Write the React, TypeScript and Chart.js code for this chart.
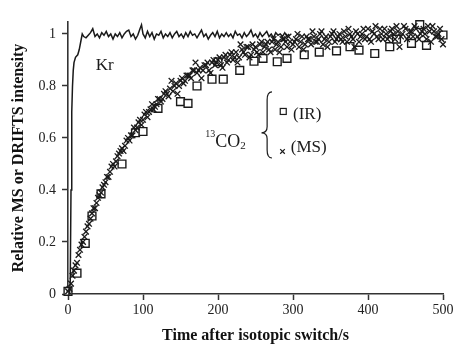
import React, { useEffect, useRef } from "react";
import { Chart, registerables } from "chart.js";

Chart.register(...registerables);

const FONT = "'Liberation Serif', 'DejaVu Serif', serif";

const xTickValues = [0, 100, 200, 300, 400, 500];
const yTickValues = [0, 0.2, 0.4, 0.6, 0.8, 1];

const krTime = [
  0, 2, 3, 4, 5, 6, 7, 8, 10, 13, 15, 17, 19, 21, 24, 27, 30, 33, 36, 39, 42, 45, 48, 51, 54, 57, 60,
  63, 66, 69, 72, 75, 78, 81, 84, 87, 90, 93, 96, 98, 100, 103, 106, 109, 112, 115, 118, 121, 124,
  127, 130, 133, 136, 139, 142, 145, 148, 151, 154, 157, 160, 163, 166, 169, 172, 175, 178, 181,
  184, 187, 190, 193, 196, 199, 202, 205, 208, 211, 214, 217, 220, 223, 226, 229, 232, 235, 238,
  241, 244, 247, 250, 253, 256, 259, 262, 265, 268, 271, 274, 277, 280, 283, 286, 289, 292, 295,
];
const krValue = [
  0, 0, 0.05, 0.4, 0.7, 0.8, 0.86, 0.89, 0.91, 0.92, 0.94, 0.97, 1.0, 0.99, 0.985, 0.995, 1.005,
  1.02, 0.99, 1.0, 0.985, 1.005, 0.995, 1.01, 0.99, 1.0, 0.98, 1.0, 0.99, 1.005, 0.985, 1.0, 1.01,
  1.015, 0.99, 1.0, 0.98, 0.995, 1.02, 1.035, 1.0, 0.985, 1.01, 0.99, 1.005, 0.98, 1.0, 0.995, 1.01,
  0.985, 1.0, 0.99, 1.005, 0.985, 1.0, 1.01, 0.99, 1.0, 0.985, 1.005, 0.99, 1.01, 0.995, 1.0, 0.985,
  1.0, 1.015, 0.99, 1.0, 0.98, 0.995, 1.005, 0.99, 1.01, 0.985, 1.0, 0.99, 1.005, 0.99, 1.0, 0.985,
  1.01, 0.995, 1.0, 0.985, 1.005, 0.99, 1.0, 1.015, 0.99, 1.0, 0.985, 1.005, 0.99, 1.0, 1.01, 0.99,
  1.0, 0.985, 1.005, 0.995, 1.0, 0.99, 1.005, 0.99, 1.0,
];

const irTime = [
  0, 12, 23, 32, 44, 72, 90, 100, 120, 150, 160, 172, 192, 200, 207, 229, 248, 260, 279, 292, 315,
  335, 358, 376, 388, 409, 429, 438, 458, 469, 478, 500,
];
const irValue = [
  0.01, 0.08, 0.195, 0.3, 0.385, 0.5, 0.62, 0.625, 0.714, 0.74, 0.733, 0.8, 0.826, 0.893, 0.826,
  0.86, 0.895, 0.906, 0.893, 0.906, 0.92, 0.93, 0.935, 0.951, 0.938, 0.925, 0.951, 0.98, 0.964,
  1.036, 0.956, 0.996,
];

// MS samples (even set)
const msTime = [
  0, 4, 8, 12, 16, 20, 24, 28, 32, 36, 40, 44, 48, 52, 56, 60, 64, 68, 72, 76, 80, 84, 88, 92, 96,
  100, 104, 108, 112, 116, 120, 124, 128, 132, 136, 140, 144, 148, 152, 156, 160, 164, 168, 172,
  176, 180, 184, 188, 192, 196, 200, 204, 208, 212, 216, 220, 224, 228, 232, 236, 240, 244, 248,
  252, 256, 260, 264, 268, 272, 276, 280, 284, 288, 292, 296, 300, 304, 308, 312, 316, 320, 324,
  328, 332, 336, 340, 344, 348, 352, 356, 360, 364, 368, 372, 376, 380, 384, 388, 392, 396, 400,
  404, 408, 412, 416, 420, 424, 428, 432, 436, 440, 444, 448, 452, 456, 460, 464, 468, 472, 476,
  480, 484, 488, 492, 496, 500,
];
const msValue = [
  0.01, 0.04, 0.09, 0.12, 0.17, 0.2, 0.24, 0.27, 0.31, 0.33, 0.37, 0.39, 0.42, 0.45, 0.47, 0.5,
  0.51, 0.54, 0.56, 0.57, 0.6, 0.61, 0.64, 0.64, 0.67, 0.67, 0.7, 0.7, 0.73, 0.72, 0.75, 0.74, 0.77,
  0.77, 0.79, 0.78, 0.81, 0.8, 0.83, 0.82, 0.84, 0.83, 0.86, 0.85, 0.87, 0.86, 0.88, 0.86, 0.89,
  0.88, 0.9, 0.88, 0.91, 0.89, 0.92, 0.9, 0.93, 0.91, 0.94, 0.92, 0.95, 0.92, 0.94, 0.93, 0.96,
  0.93, 0.96, 0.94, 0.97, 0.94, 0.97, 0.95, 0.98, 0.95, 0.97, 0.96, 0.98, 0.95, 0.99, 0.96, 0.98,
  0.96, 0.99, 0.97, 1.0, 0.96, 0.99, 0.97, 1.0, 0.97, 0.99, 0.98, 1.01, 0.97, 1.0, 0.98, 1.01, 0.97,
  1.0, 0.98, 1.02, 0.97, 1.0, 0.99, 1.02, 0.98, 1.0, 0.99, 1.02, 0.98, 1.01, 0.99, 1.03, 0.98, 1.01,
  0.99, 1.02, 0.98, 1.01, 1.0, 1.03, 0.97, 1.01, 0.99, 1.02, 0.96,
];

// MS samples (odd set)
const msTime2 = [
  2, 6, 10, 14, 18, 22, 26, 30, 34, 38, 42, 46, 50, 54, 58, 62, 66, 70, 74, 78, 82, 86, 90, 94, 98,
  102, 106, 110, 114, 118, 122, 126, 130, 134, 138, 142, 146, 150, 154, 158, 162, 166, 170, 174,
  178, 182, 186, 190, 194, 198, 202, 206, 210, 214, 218, 222, 226, 230, 234, 238, 242, 246, 250,
  254, 258, 262, 266, 270, 274, 278, 282, 286, 290, 294, 298, 302, 306, 310, 314, 318, 322, 326,
  330, 334, 338, 342, 346, 350, 354, 358, 362, 366, 370, 374, 378, 382, 386, 390, 394, 398, 402,
  406, 410, 414, 418, 422, 426, 430, 434, 438, 442, 446, 450, 454, 458, 462, 466, 470, 474, 478,
  482, 486, 490, 494, 498,
];
const msValue2 = [
  0.02, 0.07, 0.11, 0.15, 0.19, 0.22, 0.26, 0.29, 0.33, 0.35, 0.38, 0.41, 0.43, 0.45, 0.49, 0.49,
  0.53, 0.55, 0.55, 0.59, 0.59, 0.61, 0.63, 0.66, 0.65, 0.69, 0.68, 0.71, 0.71, 0.73, 0.75, 0.75,
  0.78, 0.76, 0.82, 0.8, 0.77, 0.82, 0.81, 0.84, 0.84, 0.86, 0.89, 0.86, 0.83, 0.88, 0.89, 0.85, 0.9,
  0.89, 0.91, 0.87, 0.92, 0.9, 0.93, 0.91, 0.89, 0.96, 0.93, 0.95, 0.91, 0.96, 0.95, 0.92, 0.97,
  0.95, 0.97, 0.93, 0.98, 0.96, 0.93, 0.98, 0.97, 0.99, 0.94, 0.97, 1.0, 0.97, 0.94, 0.99, 0.98,
  1.01, 0.97, 0.98, 1.01, 0.98, 0.95, 0.99, 1.01, 0.98, 1.0, 0.97, 0.99, 1.02, 0.99, 0.95, 1.0, 0.99,
  1.02, 0.99, 0.98, 1.01, 1.03, 0.98, 1.0, 1.02, 0.98, 1.01, 1.0, 1.03, 0.95, 1.0, 1.02, 0.99, 1.01,
  1.03, 0.99, 1.0, 1.02, 0.98, 1.01, 1.03, 0.99, 1.0, 0.98,
];

const toPoints = (xs: number[], ys: number[]) => xs.map((x, i) => ({ x, y: ys[i] }));

const INK = "#1a1a1a";

const notesPlugin = {
  id: "notes",
  afterDatasetsDraw(chart: any) {
    const { ctx } = chart;
    const x = chart.scales.x;
    const y = chart.scales.y;
    ctx.save();
    ctx.fillStyle = INK;
    ctx.strokeStyle = INK;
    ctx.textBaseline = "alphabetic";
    ctx.textAlign = "left";

    ctx.font = `17px ${FONT}`;
    ctx.fillText("Kr", x.getPixelForValue(37), y.getPixelForValue(0.86));

    let px = x.getPixelForValue(183);
    const py = y.getPixelForValue(0.567);
    ctx.font = `10px ${FONT}`;
    ctx.fillText("13", px, py - 10);
    px += ctx.measureText("13").width;
    ctx.font = `18px ${FONT}`;
    ctx.fillText("CO", px, py);
    px += ctx.measureText("CO").width;
    ctx.font = `11px ${FONT}`;
    ctx.fillText("2", px, py + 2);

    const xr = x.getPixelForValue(272);
    const xm = x.getPixelForValue(265.5);
    const xl = x.getPixelForValue(258);
    const yt = y.getPixelForValue(0.777);
    const ym = y.getPixelForValue(0.62);
    const yb = y.getPixelForValue(0.523);
    ctx.lineWidth = 1.2;
    ctx.beginPath();
    ctx.moveTo(xr, yt);
    ctx.quadraticCurveTo(xm, yt, xm, yt + 8);
    ctx.lineTo(xm, ym - 6);
    ctx.quadraticCurveTo(xm, ym, xl, ym);
    ctx.quadraticCurveTo(xm, ym, xm, ym + 6);
    ctx.lineTo(xm, yb - 8);
    ctx.quadraticCurveTo(xm, yb, xr, yb);
    ctx.stroke();

    const sx = x.getPixelForValue(287);
    const sy = y.getPixelForValue(0.702);
    ctx.lineWidth = 1.2;
    ctx.strokeRect(sx - 3, sy - 3, 6, 6);
    ctx.font = `17px ${FONT}`;
    ctx.textBaseline = "middle";
    ctx.fillText("(IR)", x.getPixelForValue(300), y.getPixelForValue(0.692));

    const cx = x.getPixelForValue(286);
    const cy = y.getPixelForValue(0.548);
    ctx.beginPath();
    ctx.moveTo(cx - 2.3, cy - 2.3);
    ctx.lineTo(cx + 2.3, cy + 2.3);
    ctx.moveTo(cx + 2.3, cy - 2.3);
    ctx.lineTo(cx - 2.3, cy + 2.3);
    ctx.stroke();
    ctx.fillText("(MS)", x.getPixelForValue(297), y.getPixelForValue(0.565));
    ctx.restore();
  },
};

export default function App() {
  const ref = useRef<HTMLCanvasElement | null>(null);

  useEffect(() => {
    if (!ref.current) return;
    const chart = new Chart(ref.current, {
      type: "scatter",
      data: {
        datasets: [
          {
            label: "Kr",
            data: toPoints(krTime, krValue),
            showLine: true,
            borderColor: INK,
            borderWidth: 1.5,
            pointRadius: 0,
            tension: 0,
            clip: false as any,
          },
          {
            label: "MS",
            data: toPoints(msTime, msValue).concat(toPoints(msTime2, msValue2)),
            pointStyle: "crossRot",
            pointRadius: 4,
            borderWidth: 1.3,
            borderColor: INK,
            backgroundColor: INK,
            clip: false as any,
          },
          {
            label: "IR",
            data: toPoints(irTime, irValue),
            pointStyle: "rect",
            pointRadius: 5.5,
            borderWidth: 1.4,
            borderColor: INK,
            backgroundColor: "#ffffff",
            clip: false as any,
          },
        ],
      },
      options: {
        animation: false,
        responsive: true,
        maintainAspectRatio: false,
        layout: { padding: { top: 22, right: 13, left: 0, bottom: 0 } },
        plugins: { legend: { display: false }, tooltip: { enabled: false } },
        scales: {
          x: {
            type: "linear",
            min: 0,
            max: 500,
            afterFit: (s: any) => {
              s.height = 51;
            },
            afterBuildTicks: (s: any) => {
              s.ticks = xTickValues.map((v) => ({ value: v }));
            },
            ticks: {
              color: "#222",
              font: { family: FONT, size: 14 },
              padding: 2,
              maxRotation: 0,
            },
            grid: { drawOnChartArea: false, drawTicks: true, tickLength: 6, tickWidth: 1.5, tickColor: "#333" },
            border: { display: true, color: "#333", width: 1.6 },
            title: {
              display: true,
              text: "Time after isotopic switch/s",
              color: "#111",
              font: { family: FONT, size: 16, weight: "bold" },
              padding: { top: 0, bottom: 0 },
            },
          },
          y: {
            type: "linear",
            min: 0,
            max: 1.046,
            afterFit: (s: any) => {
              s.width = 68;
            },
            afterBuildTicks: (s: any) => {
              s.ticks = yTickValues.map((v) => ({ value: v }));
            },
            ticks: {
              color: "#222",
              font: { family: FONT, size: 14 },
              padding: 6,
              callback: (v: any) => String(v),
            },
            grid: { drawOnChartArea: false, drawTicks: true, tickLength: 6, tickWidth: 1.5, tickColor: "#333" },
            border: { display: true, color: "#333", width: 1.6 },
            title: {
              display: true,
              text: "Relative MS or DRIFTS intensity",
              color: "#111",
              font: { family: FONT, size: 16, weight: "bold" },
              padding: { top: 9, bottom: 0 },
            },
          },
        },
      },
      plugins: [notesPlugin],
    });
    return () => chart.destroy();
  }, []);

  return (
    <div style={{ position: "fixed", left: 0, top: 0, width: 456, height: 345, background: "#fff" }}>
      <canvas ref={ref} />
    </div>
  );
}
